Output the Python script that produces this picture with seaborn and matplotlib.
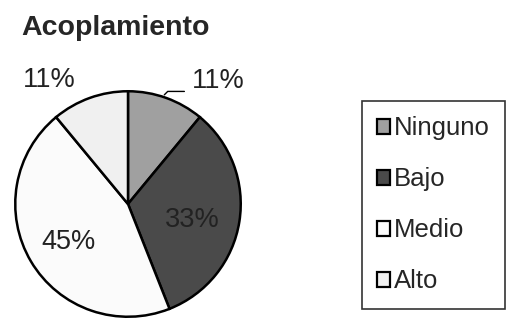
import matplotlib
matplotlib.use("Agg")
import matplotlib.pyplot as plt
import seaborn as sns
import numpy as np

categories = ["Ninguno", "Bajo", "Medio", "Alto"]
values = [11, 33, 45, 11]
pct_labels = ["11%", "33%", "45%", "11%"]
colors = ["#a0a0a0", "#4a4a4a", "#fbfbfb", "#f0f0f0"]

sns.set_style("white")
plt.rcParams["font.family"] = ["Liberation Sans", "DejaVu Sans"]

W, H = 507, 323
fig = plt.figure(figsize=(W / 100, H / 100), dpi=100)
cx, cy, r = 128, 204, 115
ax = fig.add_axes([(cx - r) / W, (H - cy - r) / H, 2 * r / W, 2 * r / H])
wedges, _ = ax.pie(values, colors=colors, startangle=90, counterclock=False,
                   wedgeprops=dict(edgecolor="black", linewidth=1.8))
ax.set_xlim(-1.02, 1.02)
ax.set_ylim(-1.02, 1.02)
ax.set_aspect("equal")
ax.axis("off")

# label offsets (in radius units) per slice
label_pos = [(0.80, 1.09), (0.57, -0.14), (-0.53, -0.34), (-0.70, 1.10)]
for i, (w, lab) in enumerate(zip(wedges, pct_labels)):
    x, y = label_pos[i]
    ax.text(x, y, lab, ha="center", va="center", fontsize=19.5, color="#222222")

# leader line for Ninguno
ang = np.deg2rad((wedges[0].theta1 + wedges[0].theta2) / 2)
ex, ey = 1.04 * np.cos(ang) - 0.03, 1.04 * np.sin(ang)
ax.plot([ex, ex + 0.03, 0.50], [ey - 0.01, ey + 0.02, ey + 0.02], color="black", lw=1, clip_on=False)

fig.text(116 / W, 1 - 28 / H, "Acoplamiento", ha="center", va="center",
         fontsize=20.5, fontweight="bold")

from matplotlib.patches import Patch
handles = [Patch(facecolor=c, edgecolor="black", linewidth=1.6) for c in colors]
leg = fig.legend(handles, categories, loc="upper left",
                 bbox_to_anchor=(362 / W, 1 - 101 / H), bbox_transform=fig.transFigure,
                 fontsize=18.5, frameon=True, fancybox=False, edgecolor="black",
                 handlelength=0.5, handleheight=0.5, handletextpad=0.15,
                 labelspacing=1.05, borderpad=0.6, borderaxespad=0)
leg.get_frame().set_linewidth(1.2)

fig.savefig("out.png", dpi=100)
